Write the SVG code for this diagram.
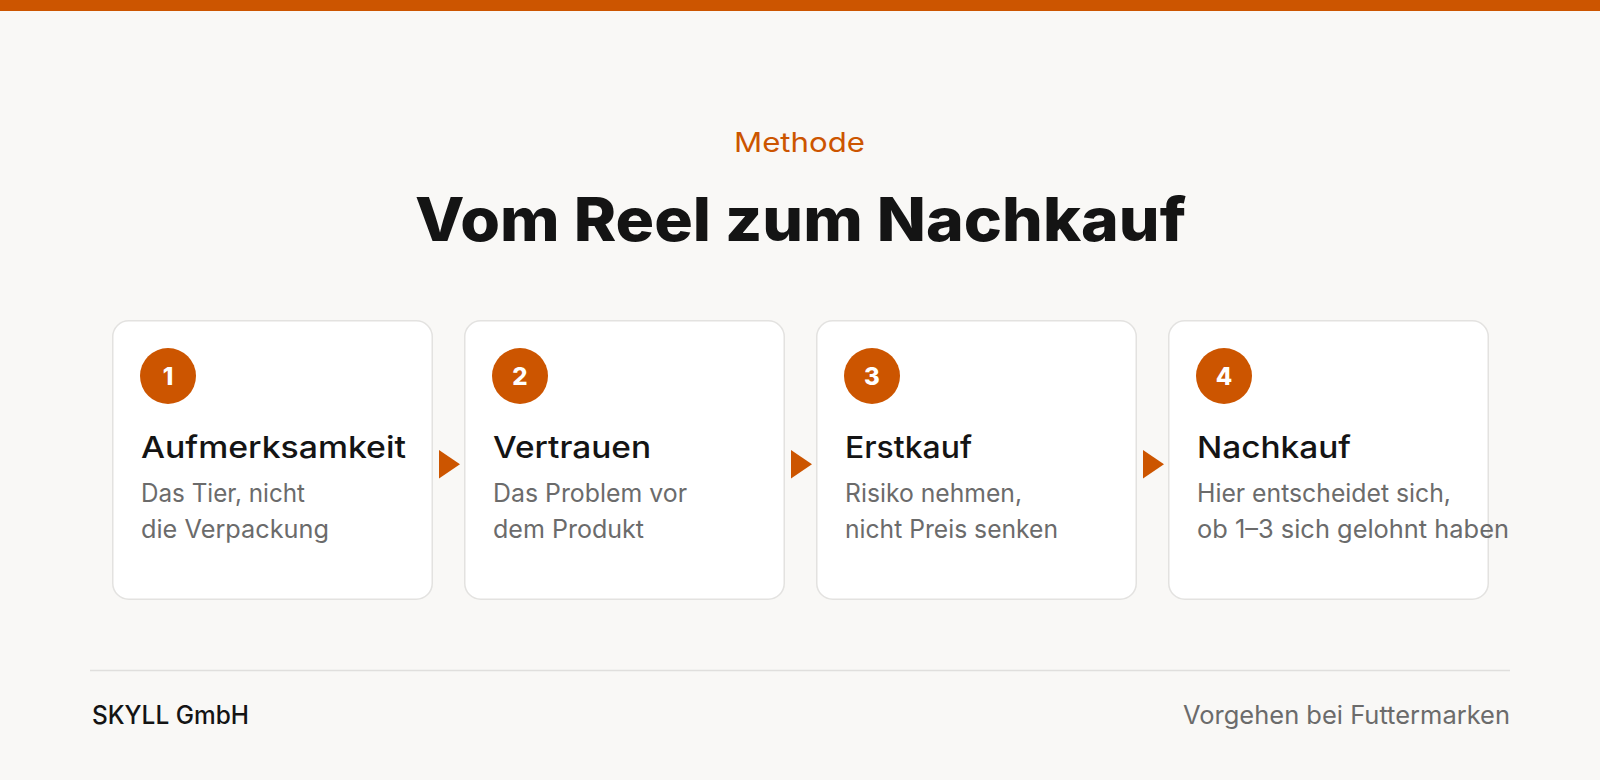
<svg xmlns="http://www.w3.org/2000/svg" width="1600" height="780" viewBox="0 0 1600 780">
  <defs>
    <style>
      .bg { fill: #f9f8f6; }
      .bar { fill: #cc5500; }
      .card { fill: #ffffff; stroke: #e3e2e0; stroke-width: 1.5; }
      .badge { fill: #cc5500; }
      .num { font-family: Inter, "Liberation Sans", sans-serif; font-weight: 800; font-size: 24px; fill: #ffffff; text-anchor: middle; }
      .eyebrow { font-family: Inter, "Liberation Sans", sans-serif; font-weight: 400; font-size: 27px; fill: #cc5500; }
      .title { font-family: Inter, "Liberation Sans", sans-serif; font-weight: 800; font-size: 60px; fill: #141414; }
      .ctitle { font-family: Inter, "Liberation Sans", sans-serif; font-weight: 500; font-size: 30px; fill: #141414; }
      .desc { font-family: Inter, "Liberation Sans", sans-serif; font-weight: 400; font-size: 25px; fill: #6b6b6b; }
      .foot { font-family: Inter, "Liberation Sans", sans-serif; font-size: 25px; }
      .arrow { fill: #cc5500; }
      .rule { stroke: #e0dfdd; stroke-width: 1.5; }
    </style>
  </defs>

  <rect class="bg" x="0" y="0" width="1600" height="780"/>
  <rect class="bar" x="0" y="0" width="1600" height="11"/>

  <g id="header">
    <text class="eyebrow" x="734" y="152" textLength="131" lengthAdjust="spacingAndGlyphs">Methode</text>
    <text class="title" x="415" y="241" textLength="771" lengthAdjust="spacingAndGlyphs">Vom Reel zum Nachkauf</text>
  </g>

  <g id="step1">
    <rect class="card" x="112.75" y="320.75" width="319.5" height="278.5" rx="16"/>
    <circle class="badge" cx="168" cy="376" r="28"/>
    <text class="num" x="168" y="384.5">1</text>
    <text class="ctitle" x="141" y="457.5" textLength="265" lengthAdjust="spacingAndGlyphs">Aufmerksamkeit</text>
    <text class="desc" x="141" y="502" textLength="164" lengthAdjust="spacingAndGlyphs">Das Tier, nicht</text>
    <text class="desc" x="141" y="537.5" textLength="188" lengthAdjust="spacingAndGlyphs">die Verpackung</text>
  </g>

  <g id="step2">
    <rect class="card" x="464.75" y="320.75" width="319.5" height="278.5" rx="16"/>
    <circle class="badge" cx="520" cy="376" r="28"/>
    <text class="num" x="520" y="384.5">2</text>
    <text class="ctitle" x="493" y="457.5" textLength="158" lengthAdjust="spacingAndGlyphs">Vertrauen</text>
    <text class="desc" x="493" y="502" textLength="194" lengthAdjust="spacingAndGlyphs">Das Problem vor</text>
    <text class="desc" x="493" y="537.5" textLength="151" lengthAdjust="spacingAndGlyphs">dem Produkt</text>
  </g>

  <g id="step3">
    <rect class="card" x="816.75" y="320.75" width="319.5" height="278.5" rx="16"/>
    <circle class="badge" cx="872" cy="376" r="28"/>
    <text class="num" x="872" y="384.5">3</text>
    <text class="ctitle" x="845" y="457.5" textLength="127" lengthAdjust="spacingAndGlyphs">Erstkauf</text>
    <text class="desc" x="845" y="502" textLength="177" lengthAdjust="spacingAndGlyphs">Risiko nehmen,</text>
    <text class="desc" x="845" y="537.5" textLength="213" lengthAdjust="spacingAndGlyphs">nicht Preis senken</text>
  </g>

  <g id="step4">
    <rect class="card" x="1168.75" y="320.75" width="319.5" height="278.5" rx="16"/>
    <circle class="badge" cx="1224" cy="376" r="28"/>
    <text class="num" x="1224" y="384.5">4</text>
    <text class="ctitle" x="1197" y="457.5" textLength="154" lengthAdjust="spacingAndGlyphs">Nachkauf</text>
    <text class="desc" x="1197" y="502" textLength="254" lengthAdjust="spacingAndGlyphs">Hier entscheidet sich,</text>
    <text class="desc" x="1197" y="537.5" textLength="312" lengthAdjust="spacingAndGlyphs">ob 1–3 sich gelohnt haben</text>
  </g>

  <g id="connectors">
    <polygon class="arrow" points="439,450 460,464.3 439,478.6"/>
    <polygon class="arrow" points="791,450 812,464.3 791,478.6"/>
    <polygon class="arrow" points="1143,450 1164,464.3 1143,478.6"/>
  </g>

  <g id="footer">
    <line class="rule" x1="90" y1="670.5" x2="1510" y2="670.5"/>
    <text class="foot" x="92" y="724" fill="#141414" font-weight="500" textLength="157" lengthAdjust="spacingAndGlyphs">SKYLL GmbH</text>
    <text class="foot" x="1183" y="724" fill="#6b6b6b" font-weight="400" textLength="327" lengthAdjust="spacingAndGlyphs">Vorgehen bei Futtermarken</text>
  </g>
</svg>
